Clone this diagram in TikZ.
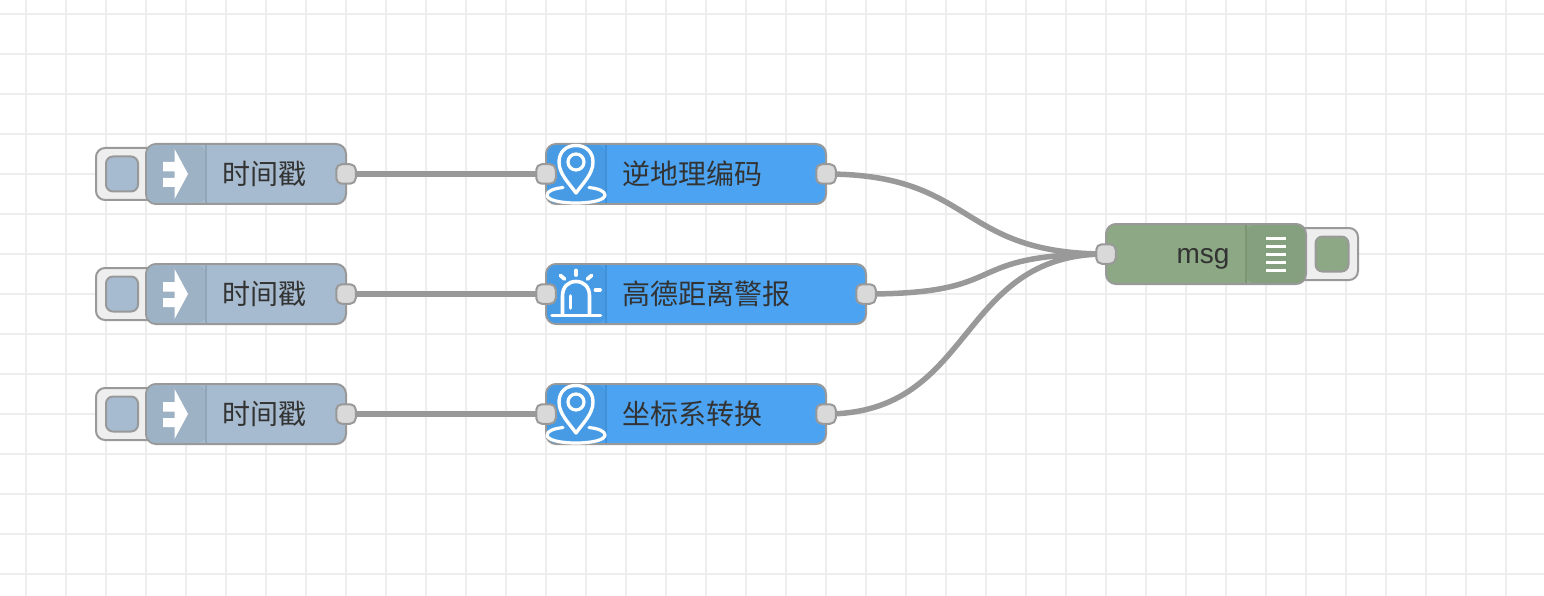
\documentclass[tikz,border=0pt]{standalone}
\usepackage{fontspec}
\setmainfont{Liberation Sans}
\newfontfamily\cjk{Noto Sans CJK SC}
\pgfdeclarelayer{gridlayer}
\pgfdeclarelayer{wirelayer}
\pgfsetlayers{gridlayer,wirelayer,main}
\definecolor{gridc}{HTML}{EEEEEE}
\definecolor{edgec}{HTML}{999999}
\definecolor{txtc}{HTML}{333333}
\definecolor{injc}{HTML}{A6BBCF}
\definecolor{injd}{HTML}{9EB2C5}
\definecolor{injs}{HTML}{93A6B8}
\definecolor{bluec}{HTML}{4BA3F1}
\definecolor{blued}{HTML}{479BE5}
\definecolor{blues}{HTML}{4290D5}
\definecolor{grnc}{HTML}{8CA884}
\definecolor{grnd}{HTML}{85A07E}
\definecolor{grns}{HTML}{7C9575}
\definecolor{portc}{HTML}{D9D9D9}
\tikzset{
  gridline/.style={gridc,line width=2pt},
  body/.style={draw=edgec,line width=2pt,rounded corners=10pt,minimum height=60pt,inner sep=0pt,outer sep=0pt},
  port/.style={draw=edgec,fill=portc,line width=2pt,rounded corners=5.5pt,minimum width=19.5pt,minimum height=19.5pt,inner sep=0pt,outer sep=0pt},
  wire/.style={edgec,line width=5.5pt},
  btnouter/.style={draw=edgec,fill=gridc,line width=2pt,rounded corners=9pt,inner sep=0pt,outer sep=0pt},
  btninner/.style={draw=edgec,line width=2pt,rounded corners=7pt,inner sep=0pt,outer sep=0pt,minimum width=32pt,minimum height=35pt},
  label/.style={text=txtc,inner sep=0pt,outer sep=0pt,font=\fontsize{28}{28}\selectfont},
  icon/.style={white,line width=3.2pt,line cap=round,line join=round},
}
\begin{document}
\begin{tikzpicture}[x=1pt,y=-1pt]
\useasboundingbox (0,0) rectangle (1544,596);
\begin{pgfonlayer}{gridlayer}
\fill[white] (0,0) rectangle (1544,596);
\foreach \gx in {26,66,...,1506} \draw[gridline] (\gx,0) -- (\gx,596);
\foreach \gy in {14,54,...,574} \draw[gridline] (0,\gy) -- (1544,\gy);
\end{pgfonlayer}

% inject buttons and bodies
\foreach \nm/\cy in {a/174,b/294,c/414}{
  \node[btnouter,minimum width=62pt,minimum height=52pt] (btn\nm) at (127,\cy) {};
  \node[btninner,fill=injc] (btni\nm) at (122,\cy) {};
  \node[body,fill=injc,minimum width=200pt] (ts\nm) at (246,\cy) {};
  \fill[injd,rounded corners=9pt] (206,\cy-29) -- (147,\cy-29) -- (147,\cy+29) -- (206,\cy+29) -- cycle;
  \draw[injs,line width=1.5pt] (206,\cy-29) -- (206,\cy+29);
  \fill[white] (163,\cy-12) -- (174.5,\cy-12) -- (174.5,\cy-25) -- (188,\cy) -- (174.5,\cy+25) -- (174.5,\cy+13) -- (163,\cy+13) -- (163,\cy+4) -- (174.5,\cy+4) -- (174.5,\cy-2.5) -- (163,\cy-2.5) -- cycle;
  \node[label,anchor=west,font=\cjk\fontsize{28}{28}\selectfont] (tl\nm) at (222,\cy) {时间戳};
  \node[port] (tsout\nm) at (346,\cy) {};
}

% function nodes
\node[body,fill=bluec,minimum width=280pt] (geo) at (686,174) {};
\node[body,fill=bluec,minimum width=320pt] (alarm) at (706,294) {};
\node[body,fill=bluec,minimum width=280pt] (conv) at (686,414) {};
\foreach \cy in {174,294,414}{
  \fill[blued,rounded corners=9pt] (606,\cy-29) -- (547,\cy-29) -- (547,\cy+29) -- (606,\cy+29) -- cycle;
  \draw[blues,line width=1.5pt] (606,\cy-29) -- (606,\cy+29);
}
\foreach \cy in {174,414}{
  \draw[icon,line width=3.4pt] (576,\cy+19) .. controls (569,\cy+9) and (559,\cy+0) .. (559,\cy-12)
     .. controls (559,\cy-22) and (566,\cy-28.5) .. (576,\cy-28.5)
     .. controls (586,\cy-28.5) and (593,\cy-22) .. (593,\cy-12)
     .. controls (593,\cy+0) and (583,\cy+9) .. (576,\cy+19) -- cycle;
  \draw[icon] (576,\cy-12) circle[radius=8];
  \draw[icon] (589,\cy+13.5) .. controls (598,\cy+14.5) and (605,\cy+17) .. (605,\cy+21)
     .. controls (605,\cy+26) and (592,\cy+29) .. (576,\cy+29)
     .. controls (560,\cy+29) and (547,\cy+26) .. (547,\cy+21)
     .. controls (547,\cy+17) and (554,\cy+14.5) .. (563,\cy+13.5);
}
% alarm icon
\draw[icon,line width=3.6pt] (552,315.5) -- (600.5,315.5);
\draw[icon,line width=3.6pt] (562.5,315) -- (562.5,296) .. controls (562.5,287) and (568,281.5) .. (576,281.5) .. controls (584,281.5) and (589.5,287) .. (589.5,296) -- (589.5,315);
\draw[icon,line width=3.6pt] (570.5,296) -- (570.5,308);
\draw[icon,line width=3.8pt] (576,270.5) -- (576,275);
\draw[icon,line width=3.8pt] (560.5,275.5) -- (564.5,279);
\draw[icon,line width=3.8pt] (591.5,275.5) -- (587.5,279);
\draw[icon,line width=3.8pt] (595.5,290) -- (600,290);

\node[label,anchor=west,font=\cjk\fontsize{28}{28}\selectfont] (geol) at (622,174) {逆地理编码};
\node[label,anchor=west,font=\cjk\fontsize{28}{28}\selectfont] (alarml) at (622,294) {高德距离警报};
\node[label,anchor=west,font=\cjk\fontsize{28}{28}\selectfont] (convl) at (622,414) {坐标系转换};

\node[port] (geoin) at (546,174) {};
\node[port] (geoout) at (826,174) {};
\node[port] (alarmin) at (546,294) {};
\node[port] (alarmout) at (866,294) {};
\node[port] (convin) at (546,414) {};
\node[port] (convout) at (826,414) {};

% debug node
\node[btnouter,minimum width=62pt,minimum height=52pt] (dbtn) at (1327,254) {};
\node[btninner,fill=grnc,minimum width=33pt] (dbtni) at (1332,254) {};
\node[body,fill=grnc,minimum width=200pt] (msg) at (1206,254) {};
\fill[grnd,rounded corners=9pt] (1246,225) -- (1305,225) -- (1305,283) -- (1246,283) -- cycle;
\draw[grns,line width=1.5pt] (1246,225) -- (1246,283);
\foreach \ly in {238,246,254,262,270} \draw[white,line width=3pt] (1266,\ly) -- (1286,\ly);
\node[label,anchor=base east] (msgl) at (1229.5,263) {msg};
\node[port] (msgin) at (1106,254) {};

% wires
\begin{pgfonlayer}{wirelayer}
\draw[wire] (tsouta) -- (geoin);
\draw[wire] (tsoutb) -- (alarmin);
\draw[wire] (tsoutc) -- (convin);
\draw[wire] (geoout.center) .. controls (976,174) and (956,254) .. (msgin.center);
\draw[wire] (alarmout.center) .. controls (1016,294) and (956,254) .. (msgin.center);
\draw[wire] (convout.center) .. controls (976,414) and (956,254) .. (msgin.center);
\end{pgfonlayer}
\end{tikzpicture}
\end{document}
